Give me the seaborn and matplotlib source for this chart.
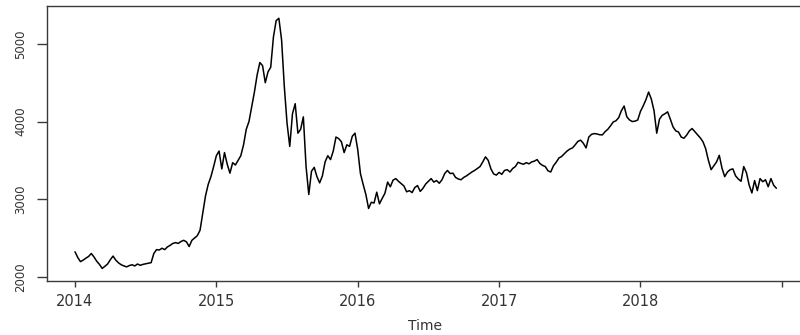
import numpy as np
import pandas as pd
import matplotlib
matplotlib.use("Agg")
import matplotlib.pyplot as plt
import seaborn as sns

# Weekly closing level of the index, one list per calendar year
start_year = 2014
frequency = 52

close_2014 = [2322, 2250, 2195, 2215, 2240, 2262, 2300, 2255, 2200, 2160,
              2108, 2135, 2165, 2220, 2267, 2215, 2180, 2155, 2140, 2128,
              2145, 2155, 2140, 2165, 2148, 2160, 2168, 2175, 2182, 2300,
              2350, 2345, 2368, 2350, 2385, 2405, 2430, 2440, 2430, 2455,
              2470, 2450, 2390, 2470, 2500, 2530, 2600, 2820, 3040, 3190,
              3290, 3420]
close_2015 = [3560, 3620, 3390, 3600, 3450, 3335, 3470, 3440, 3500, 3560,
              3700, 3900, 4000, 4190, 4380, 4600, 4760, 4720, 4500, 4640,
              4700, 5090, 5300, 5330, 5050, 4450, 3980, 3680, 4100, 4230,
              3850, 3900, 4060, 3420, 3060, 3360, 3410, 3290, 3210, 3300,
              3480, 3560, 3510, 3620, 3800, 3780, 3740, 3600, 3700, 3680,
              3810, 3850]
close_2016 = [3640, 3330, 3190, 3060, 2880, 2960, 2950, 3090, 2940, 3010,
              3075, 3220, 3160, 3245, 3265, 3230, 3200, 3170, 3095, 3110,
              3085, 3150, 3175, 3100, 3140, 3195, 3230, 3265, 3220, 3240,
              3205, 3250, 3330, 3370, 3330, 3335, 3280, 3260, 3250, 3280,
              3300, 3325, 3350, 3370, 3395, 3420, 3480, 3545, 3500, 3390,
              3325, 3310]
close_2017 = [3345, 3320, 3370, 3380, 3350, 3395, 3420, 3475, 3460, 3450,
              3470, 3455, 3480, 3490, 3510, 3460, 3435, 3420, 3365, 3350,
              3430, 3475, 3530, 3550, 3585, 3620, 3645, 3660, 3700, 3745,
              3760, 3720, 3660, 3800, 3835, 3845, 3840, 3830, 3828, 3870,
              3900, 3945, 3995, 4010, 4050, 4140, 4200, 4060, 4020, 4000,
              4005, 4020]
close_2018 = [4130, 4200, 4280, 4380, 4290, 4140, 3850, 4030, 4080, 4100,
              4125, 4030, 3930, 3880, 3865, 3800, 3785, 3825, 3880, 3910,
              3870, 3830, 3790, 3740, 3650, 3500, 3380, 3430, 3480, 3565,
              3400, 3290, 3350, 3380, 3390, 3300, 3260, 3230, 3420, 3340,
              3180, 3080, 3240, 3110, 3265, 3225, 3250, 3160, 3265, 3180,
              3140]

x_ticks = [2014, 2015, 2016, 2017, 2018, 2019]
x_tick_labels = ["2014", "2015", "2016", "2017", "2018", ""]
y_ticks = [2000, 3000, 4000, 5000]
y_tick_labels = ["2000", "3000", "4000", "5000"]

values = close_2014 + close_2015 + close_2016 + close_2017 + close_2018
series = pd.DataFrame({
    "Time": start_year + np.arange(len(values)) / frequency,
    "Close": values,
})

sns.set_theme(style="white")
plt.rcParams["font.family"] = ["DejaVu Sans"]

fig = plt.figure(figsize=(8.0, 3.35), dpi=100)
ax = fig.add_axes([0.0584, 0.161, 0.945, 0.821])

sns.lineplot(data=series, x="Time", y="Close", ax=ax, color="black",
             linewidth=1.1, estimator=None, sort=False)

ax.set_xlim(2013.80, 2019.148)
ax.set_ylim(1945, 5488)

frame_color = "#3a3a3a"
for side in ["left", "right", "top", "bottom"]:
    ax.spines[side].set_visible(True)
    ax.spines[side].set_color(frame_color)
    ax.spines[side].set_linewidth(1.0)

ax.set_xticks(x_ticks)
ax.set_xticklabels(x_tick_labels)
ax.set_yticks(y_ticks)
ax.set_yticklabels(y_tick_labels, rotation=90, va="center")

ax.tick_params(axis="x", direction="out", length=4.3, width=1.0,
               color=frame_color, labelcolor="#333333", labelsize=10.5, pad=5)
ax.tick_params(axis="y", direction="out", length=7.2, width=1.0,
               color=frame_color, labelcolor="#333333", labelsize=8.5, pad=7)
ax.tick_params(bottom=True, left=True, top=False, right=False)

ax.set_xlabel("Time", fontsize=10, color="#333333")
ax.xaxis.set_label_coords(0.5, -0.164)
ax.xaxis.label.set_va("center")
ax.set_ylabel("")
ax.grid(False)

fig.savefig("out.png", dpi=100)
